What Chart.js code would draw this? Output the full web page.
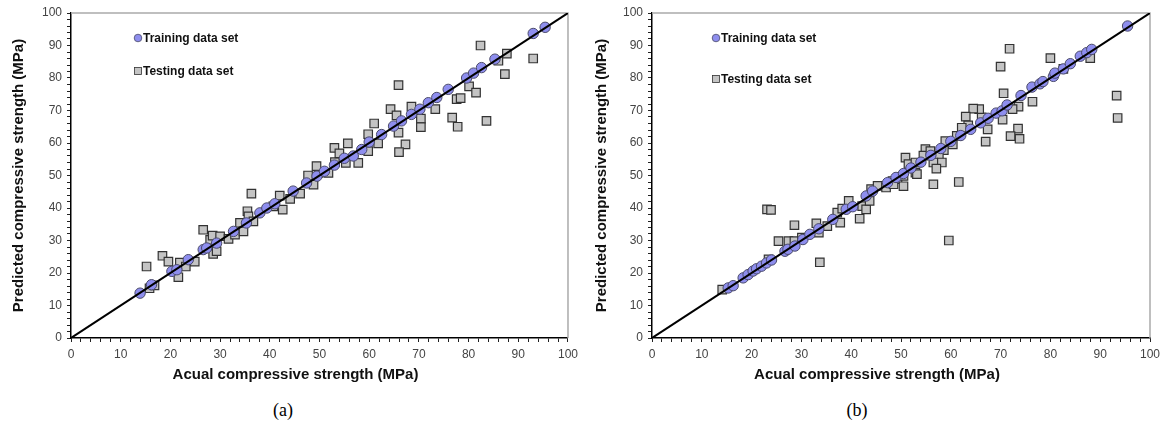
<!DOCTYPE html>
<html>
<head>
<meta charset="utf-8">
<script src="https://cdn.jsdelivr.net/npm/chart.js@4.4.1/dist/chart.umd.min.js"></script>
<style>
  body { margin: 0; background: #fff; width: 1167px; height: 428px; position: relative; overflow: hidden; }
  canvas { position: absolute; top: 0; }
  .cap { position: absolute; top: 400px; font-family: "Liberation Serif", "Times New Roman", serif; font-size: 18px; color: #000; width: 40px; text-align: center; }
</style>
</head>
<body>
<canvas id="chartA" width="583" height="388" style="left:0px"></canvas>
<canvas id="chartB" width="584" height="388" style="left:583px"></canvas>
<div class="cap" style="left:263px">(a)</div>
<div class="cap" style="left:837px">(b)</div>
<script>
// (a) training data set: [actual, predicted]
var trainA = [[13.9,13.8],[16.2,16.4],[20.3,20.5],[21.3,21],[23.6,24.1],[26.6,27.2],[27.3,27.7],[29.3,29.2],
  [32.7,32.8],[35.3,35.4],[38,38.5],[39.4,40],[41,41.3],[44.7,45.2],[47.4,47.7],[49.5,49.8],[51,51.3],
  [53,53.2],[55,55.3],[56.8,56],[58.5,58],[60,60.3],[62.5,62.6],[64.9,65.2],[66.5,66.8],[68.5,68.8],
  [70.2,70.4],[71.9,72.4],[73.6,74],[75.9,76.5],[79.6,80],[81,81.5],[82.6,83.2],[85.3,85.8],[93,93.7],[95.4,95.6]];
// (a) testing data set
var testA = [[15.2,22],[15.8,15.3],[16.8,16.2],[18.4,25.3],[19.6,23.5],[21.6,18.7],[21.9,23.2],[23.1,22],[24.9,23.5],
  [26.6,33.3],[28,30.2],[28.5,31.5],[28.6,25.9],[29.3,26.7],[30,31.3],[31.7,30.5],[33,31.8],[34,35.4],
  [34.7,32.8],[35.5,39],[35.7,37.4],[36.3,44.4],[36.7,35.9],[40.7,40.5],[42,43.8],[42.6,39.5],[44.1,42.8],
  [46.1,44.4],[47.7,50],[48.8,47.2],[49.8,50.8],[49.4,52.9],[51.8,50.8],[53.1,54.1],[55.3,53.9],[53,58.5],
  [54,56.8],[55.7,59.9],[57.8,53.9],[59.8,62.7],[61.8,59.9],[59.8,57.5],[61,66],[64.3,70.4],[65.5,68.5],
  [65.9,77.8],[65.9,63.2],[67.3,59.6],[66,57.2],[68.5,71.2],[70.4,67.5],[70.4,64.9],[73.3,70.4],[76.7,67.8],
  [77.8,65],[77.6,73.5],[78.4,73.8],[80.1,77.4],[81.5,75.5],[82.4,90],[83.6,66.8],[86,85.3],[87.7,87.5],
  [87.3,81.2],[93,86]];
// (b) training data set
var trainB = [[15.3,15.4],[16.3,16.1],[18.3,18.5],[19.3,19.5],[20.3,20.6],[21,21.3],[22,22.1],[23,23.1],[24,24],
  [26.7,26.7],[27.3,27.3],[28.7,28.3],[30.3,30.3],[31.7,31.9],[33.5,33.6],[36.3,36.5],[39,39.6],[40.3,40.4],
  [43,43.7],[44.3,45.2],[47.3,47.8],[49,49.4],[50.5,50.6],[52,52.3],[54,54.1],[56,56.2],[58,58.3],[60,60.5],
  [62,62.3],[64,64.2],[66,66.2],[67.5,67.6],[69.1,69.2],[70.3,69.9],[71.3,71.7],[74.1,74.6],[76.3,77.2],
  [77.9,78.2],[78.5,78.9],[80.6,80.5],[80.9,81.5],[82.6,82.8],[84,84.4],[86,86.7],[87.3,87.8],[88.3,88.8],[95.5,96]];
// (b) testing data set
var testB = [[14.1,14.9],[23.1,39.6],[23.9,39.4],[28.6,34.7],[33.7,23.3],[25.4,29.8],[27.4,29.8],[28.6,29.8],
  [23.4,24.2],[30.1,30.9],[33,35.3],[33.5,32.4],[35.2,34.4],[37.2,38.6],[38.2,39.8],[39.5,42.2],[37.8,35.5],
  [41.7,36.7],[42.2,40.6],[43,39.6],[43.7,42.2],[44,45.8],[45.3,46.8],[47,46.3],[48.3,48.3],[49.3,48.9],
  [71.8,89],[70,83.5],[80,86.1],[88,86.1],[82.6,82.8],[93.3,74.6],[93.5,67.7],[70.6,75.3],[76.4,72.7],
  [73.6,71.2],[72.4,70.4],[70.4,67.2],[73.5,64.4],[73.8,61.3],[72,62.1],[67,60.4],[67.4,64.2],[66.2,67.9],
  [65.7,70.4],[64.5,70.6],[63,68.1],[63.5,65.4],[62.2,64.7],[61.2,62.2],[60.4,59.6],[58.9,60.6],[58.6,57.8],
  [57.6,56.1],[56.5,54],[58.2,54],[57.1,52.1],[54.9,58.1],[54.5,56.1],[55.9,57.5],[50.9,55.5],[51.5,53.5],
  [52.9,54],[52.9,50.9],[50.5,49.9],[56.5,47.3],[61.6,48],[59.6,30],[50.5,46.7],[48.5,47.3],[53.2,50.4]];
// 1:1 line
var idealLine = [[0,0],[100,100]];
var axisMin = 0, axisMax = 100, tickStep = 2, labelStep = 10;
var xTitle = "Acual compressive strength (MPa)";
var yTitle = "Predicted compressive strength (MPa)";
var legendNames = ["Training data set", "Testing data set"];

function toPts(arr) {
  return arr.map(function (p) { return { x: p[0], y: p[1] }; });
}

var circleFill = "#8e8eee", circleEdge = "#4a4a6a";
var squareFill = "#c4c4c4", squareEdge = "#333";

// grey frame on top and right of the plot area
var framePlugin = {
  id: "frame",
  beforeDatasetsDraw: function (chart) {
    var a = chart.chartArea, c = chart.ctx;
    c.save();
    c.strokeStyle = "#aaa";
    c.lineWidth = 1.5;
    c.beginPath();
    c.moveTo(a.left, a.top);
    c.lineTo(a.right, a.top);
    c.lineTo(a.right, a.bottom);
    c.stroke();
    c.restore();
  }
};

// x-axis title sits a little left of the plot centre in the original
var xTitlePlugin = {
  id: "xTitle",
  afterDraw: function (chart) {
    var a = chart.chartArea, c = chart.ctx;
    c.save();
    c.font = "bold 15px 'Liberation Sans', Arial, sans-serif";
    c.fillStyle = "#111";
    c.textAlign = "center";
    c.textBaseline = "middle";
    c.fillText(xTitle, (a.left + a.right) / 2 - 24, 375);
    c.restore();
  }
};

// legend drawn inside the plot
var insideLegend = {
  id: "insideLegend",
  afterDraw: function (chart, args, opts) {
    var c = chart.ctx;
    c.save();
    c.font = "bold 12px 'Liberation Sans', Arial, sans-serif";
    c.textBaseline = "middle";
    // circle
    c.beginPath();
    c.arc(opts.x, opts.y1, 3.8, 0, Math.PI * 2);
    c.fillStyle = circleFill;
    c.fill();
    c.lineWidth = 0.8;
    c.strokeStyle = circleEdge;
    c.stroke();
    // square
    c.fillStyle = squareFill;
    c.fillRect(opts.x - 3.5, opts.y2 - 3.5, 7, 7);
    c.strokeStyle = squareEdge;
    c.strokeRect(opts.x - 3.5, opts.y2 - 3.5, 7, 7);
    c.fillStyle = "#111";
    c.fillText(legendNames[0], opts.x + 5, opts.y1 + 0.5);
    c.fillText(legendNames[1], opts.x + 5, opts.y2 + 0.5);
    c.restore();
  }
};

function makeChart(id, train, test, yAxisWidth, padRight, legendPos) {
  return new Chart(document.getElementById(id), {
    type: 'scatter',
    data: {
      datasets: [
        {
          type: 'line',
          data: toPts(idealLine),
          borderColor: "#000",
          borderWidth: 2,
          pointRadius: 0,
          fill: false,
          order: 0
        },
        {
          label: legendNames[0],
          data: toPts(train),
          pointStyle: 'circle',
          pointRadius: 5.2,
          backgroundColor: circleFill,
          borderColor: circleEdge,
          borderWidth: 1,
          order: 1
        },
        {
          label: legendNames[1],
          data: toPts(test),
          pointStyle: 'rect',
          pointRadius: 6,
          backgroundColor: squareFill,
          borderColor: squareEdge,
          borderWidth: 1.2,
          order: 2
        }
      ]
    },
    options: {
      responsive: false,
      animation: false,
      layout: { padding: { top: 13, right: padRight, bottom: 0, left: 0 } },
      plugins: {
        legend: { display: false },
        tooltip: { enabled: false },
        insideLegend: legendPos
      },
      scales: {
        x: {
          type: 'linear',
          min: axisMin,
          max: axisMax,
          afterFit: function (s) { s.height = 50; },
          border: { color: "#000", width: 1.5 },
          grid: { drawOnChartArea: false, tickLength: 4, color: "#222" },
          ticks: {
            stepSize: tickStep,
            autoSkip: false,
            maxRotation: 0,
            padding: 5,
            color: "#444",
            font: { family: "'Liberation Sans', Arial, sans-serif", size: 12 },
            callback: function (v) { return v % labelStep === 0 ? v : ''; }
          },
          title: { display: false }
        },
        y: {
          type: 'linear',
          min: axisMin,
          max: axisMax,
          afterFit: function (s) { s.width = yAxisWidth; },
          border: { color: "#000", width: 1.5 },
          grid: { drawOnChartArea: false, tickLength: 4, color: "#222" },
          ticks: {
            stepSize: tickStep,
            autoSkip: false,
            padding: 5,
            color: "#444",
            font: { family: "'Liberation Sans', Arial, sans-serif", size: 12 },
            callback: function (v) { return v % labelStep === 0 ? v : ''; }
          },
          title: {
            display: true,
            text: yTitle,
            color: "#111",
            padding: { top: 10, bottom: 4 },
            font: { family: "'Liberation Sans', Arial, sans-serif", size: 15, weight: 'bold' }
          }
        }
      }
    },
    plugins: [framePlugin, xTitlePlugin, insideLegend]
  });
}

makeChart("chartA", trainA, testA, 71, 15, { x: 138, y1: 38, y2: 71 });
makeChart("chartB", trainB, testB, 69, 17, { x: 133, y1: 38, y2: 79 });
</script>
</body>
</html>
